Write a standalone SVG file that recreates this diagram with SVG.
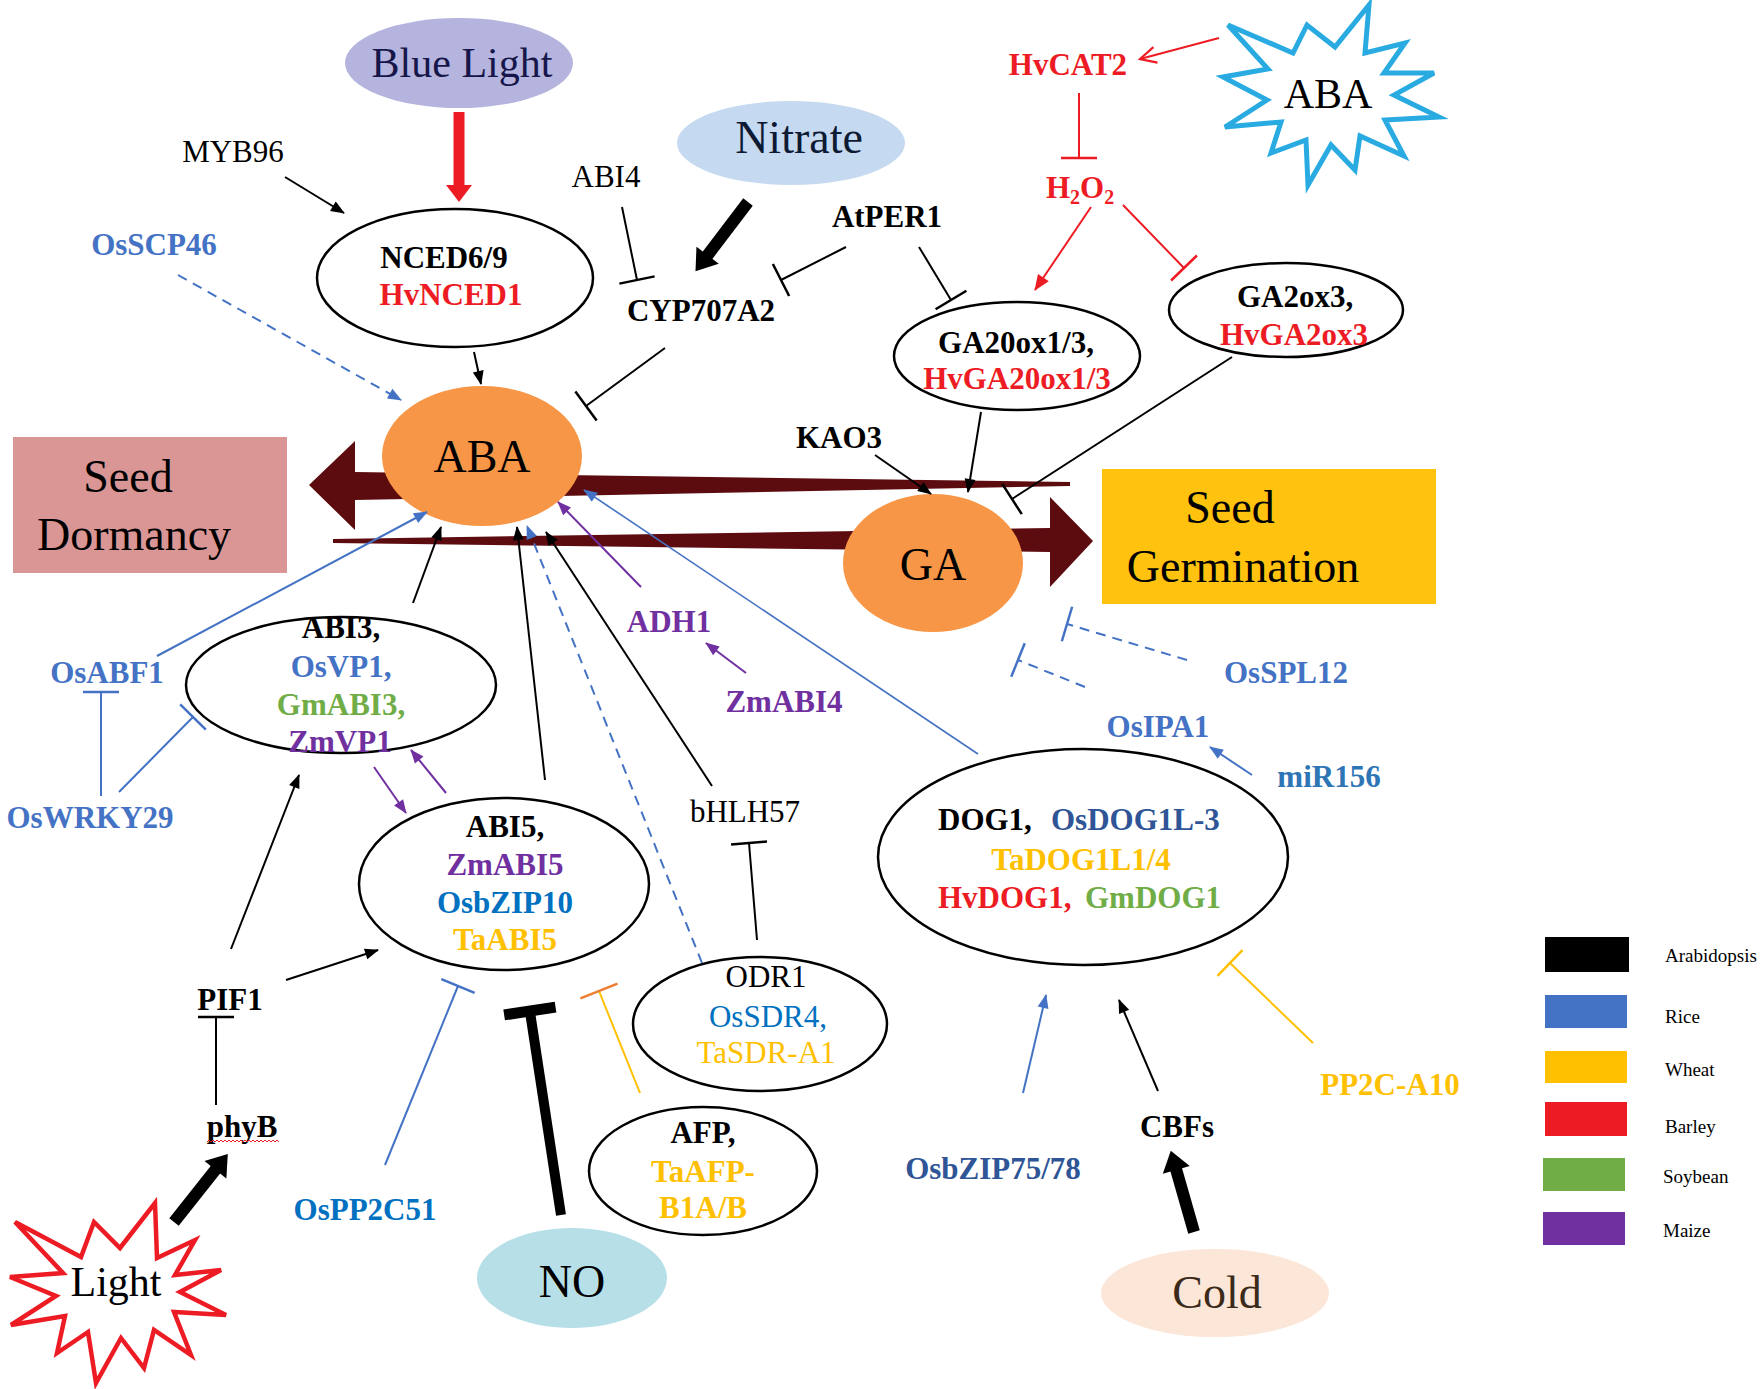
<svg xmlns="http://www.w3.org/2000/svg" width="1760" height="1389" viewBox="0 0 1760 1389">
<style>
.t{font-family:"Liberation Serif","Times New Roman",serif;font-size:31px;text-anchor:middle}
.b{font-weight:bold}
.big{font-size:46px}
.mid{font-size:42px}
.st{text-anchor:start}
.lg{font-size:19px;text-anchor:start}
.ln{fill:none;stroke-width:2}
.k{stroke:#000}.bl{stroke:#4472c4}.pu{stroke:#7030a0}.rd{stroke:#ed1c24}.ye{stroke:#ffc000}
.dash{stroke-dasharray:10 7}
.cK{fill:#000}.cB{fill:#4472c4}.cB2{fill:#0070c0}.cB3{fill:#2f5597}.cB4{fill:#2e75b6}.cR{fill:#ed1c24}.cY{fill:#ffc000}.cG{fill:#70ad47}.cP{fill:#7030a0}
.node{fill:#fff;stroke:#000;stroke-width:2.5}
.flow{fill:#5c0b0f}
</style>
<defs>
<marker id="ahK" markerUnits="userSpaceOnUse" markerWidth="14" markerHeight="11" refX="13" refY="5.5" orient="auto" overflow="visible"><path d="M0,0 L14,5.5 L0,11 z" fill="#000"/></marker>
<marker id="ahB" markerUnits="userSpaceOnUse" markerWidth="14" markerHeight="11" refX="13" refY="5.5" orient="auto" overflow="visible"><path d="M0,0 L14,5.5 L0,11 z" fill="#4472c4"/></marker>
<marker id="ahP" markerUnits="userSpaceOnUse" markerWidth="14" markerHeight="11" refX="13" refY="5.5" orient="auto" overflow="visible"><path d="M0,0 L14,5.5 L0,11 z" fill="#7030a0"/></marker>
<marker id="ahR" markerUnits="userSpaceOnUse" markerWidth="16" markerHeight="13" refX="15" refY="6.5" orient="auto" overflow="visible"><path d="M0,0 L16,6.5 L0,13 z" fill="#ed1c24"/></marker>
<marker id="ahRo" markerUnits="userSpaceOnUse" markerWidth="18" markerHeight="18" refX="17" refY="9" orient="auto" overflow="visible"><path d="M1,1 L17,9 L1,17" fill="none" stroke="#ed1c24" stroke-width="2.2"/></marker>
<marker id="tbK" markerUnits="userSpaceOnUse" markerWidth="4" markerHeight="36" refX="2" refY="18" orient="auto" overflow="visible"><path d="M2,0 V36" stroke="#000" stroke-width="2.5"/></marker>
<marker id="tbB" markerUnits="userSpaceOnUse" markerWidth="4" markerHeight="36" refX="2" refY="18" orient="auto" overflow="visible"><path d="M2,0 V36" stroke="#4472c4" stroke-width="2.5"/></marker>
<marker id="tbR" markerUnits="userSpaceOnUse" markerWidth="4" markerHeight="36" refX="2" refY="18" orient="auto" overflow="visible"><path d="M2,0 V36" stroke="#ed1c24" stroke-width="2.5"/></marker>
<marker id="tbY" markerUnits="userSpaceOnUse" markerWidth="4" markerHeight="36" refX="2" refY="18" orient="auto" overflow="visible"><path d="M2,0 V36" stroke="#ffc000" stroke-width="2.5"/></marker>
<marker id="tbO" markerUnits="userSpaceOnUse" markerWidth="4" markerHeight="40" refX="2" refY="20" orient="auto" overflow="visible"><path d="M2,0 V40" stroke="#ed7d31" stroke-width="2.5"/></marker>
<marker id="tbNO" markerUnits="userSpaceOnUse" markerWidth="12" markerHeight="52" refX="5" refY="26" orient="auto" overflow="visible"><path d="M6,0 V52" stroke="#000" stroke-width="11"/></marker>
<marker id="thkK" markerUnits="userSpaceOnUse" markerWidth="20" markerHeight="28" refX="1" refY="14" orient="auto" overflow="visible"><path d="M0,0 L20,14 L0,28 z" fill="#000"/></marker>
<marker id="thkR" markerUnits="userSpaceOnUse" markerWidth="17" markerHeight="26" refX="1" refY="13" orient="auto" overflow="visible"><path d="M0,0 L17,13 L0,26 z" fill="#ed1c24"/></marker>
</defs>
<rect width="1760" height="1389" fill="#fff"/>

<g id="main-flow">
<polygon class="flow" points="309,485 355,441 355,472 1070,482 1070,486 355,500 355,530"/>
<polygon class="flow" points="333,539 1050,528 1050,497 1093,541 1050,587 1050,552 333,543"/>
</g>

<g id="seed-dormancy"><rect x="13" y="437" width="274" height="136" fill="#d99694"/>
<text class="t big" x="128" y="492">Seed</text><text class="t big" x="134" y="550">Dormancy</text></g>
<g id="seed-germination"><rect x="1102" y="469" width="334" height="135" fill="#fec20f"/>
<text class="t big" x="1230" y="523">Seed</text><text class="t big" x="1243" y="582">Germination</text></g>

<g id="blue-light"><ellipse cx="459" cy="63" rx="114" ry="45" fill="#b4b4de"/>
<text class="t mid" x="462" y="77" fill="#16164a">Blue Light</text></g>
<g id="nitrate"><ellipse cx="791" cy="143" rx="114" ry="42" fill="#c5d9f0"/>
<text class="t big" x="799" y="153" fill="#0d1a33">Nitrate</text></g>
<g id="myb96"><text class="t cK" x="233" y="162">MYB96</text></g>
<g id="osscp46"><text class="t b cB" x="154" y="255">OsSCP46</text></g>
<g id="nced"><ellipse class="node" cx="455" cy="278" rx="138" ry="69"/>
<text class="t b cK" x="444" y="268">NCED6/9</text><text class="t b cR" x="451" y="305">HvNCED1</text></g>
<g id="abi4"><text class="t cK" x="606" y="187">ABI4</text></g>
<g id="cyp707a2"><text class="t b cK" x="701" y="321">CYP707A2</text></g>
<g id="atper1"><text class="t b cK" x="887" y="227">AtPER1</text></g>
<g id="hvcat2"><text class="t b cR" x="1068" y="75">HvCAT2</text></g>
<g id="h2o2"><text class="t b cR" x="1080" y="198">H<tspan font-size="20" dy="6">2</tspan><tspan dy="-6">O</tspan><tspan font-size="20" dy="6">2</tspan></text></g>
<g id="aba-star"><path d="M1228,25 L1293,53 L1307,25 L1335,47 L1369,5 L1365,53 L1405,43 L1384,73 L1434,73 L1394,95 L1439,117 L1385,120 L1404,156 L1360,136 L1355,170 L1331,145 L1308,185 L1306,140 L1271,153 L1281,122 L1225,127 L1267,100 L1223,77 L1268,69 Z" fill="#fff" stroke="#29abe2" stroke-width="5" stroke-linejoin="miter"/>
<text class="t mid" x="1328" y="108" fill="#000">ABA</text></g>
<g id="ga20ox"><ellipse class="node" cx="1017" cy="356" rx="123" ry="54"/>
<text class="t b cK" x="1016" y="353">GA20ox1/3,</text><text class="t b cR" x="1017" y="389">HvGA20ox1/3</text></g>
<g id="ga2ox3"><ellipse class="node" cx="1286" cy="310" rx="117" ry="47"/>
<text class="t b cK" x="1295" y="307">GA2ox3,</text><text class="t b cR" x="1294" y="345">HvGA2ox3</text></g>
<g id="kao3"><text class="t b cK" x="839" y="448">KAO3</text></g>
<g id="aba"><ellipse cx="482" cy="456" rx="100" ry="70" fill="#f79646"/>
<text class="t big" x="482" y="472" fill="#000">ABA</text></g>
<g id="ga"><ellipse cx="933" cy="563" rx="90" ry="69" fill="#f79646"/>
<text class="t big" x="933" y="580" fill="#000">GA</text></g>
<g id="osabf1"><text class="t b cB" x="107" y="683">OsABF1</text></g>
<g id="oswrky29"><text class="t b cB" x="90" y="828">OsWRKY29</text></g>
<g id="abi3"><ellipse class="node" cx="341" cy="685" rx="155" ry="68"/>
<text class="t b cK" x="341" y="638">ABI3,</text><text class="t b cB" x="341" y="677">OsVP1,</text><text class="t b cG" x="341" y="715">GmABI3,</text><text class="t b cP" x="340" y="752">ZmVP1</text></g>
<g id="adh1"><text class="t b cP" x="669" y="632">ADH1</text></g>
<g id="zmabi4"><text class="t b cP" x="784" y="712">ZmABI4</text></g>
<g id="osspl12"><text class="t b cB" x="1286" y="683">OsSPL12</text></g>
<g id="osipa1"><text class="t b cB" x="1158" y="737">OsIPA1</text></g>
<g id="mir156"><text class="t b cB4" x="1329" y="787">miR156</text></g>
<g id="bhlh57"><text class="t cK" x="745" y="822">bHLH57</text></g>
<g id="dog1"><ellipse class="node" cx="1083" cy="857" rx="205" ry="108"/>
<text class="t b st" x="938" y="830"><tspan class="cK">DOG1,</tspan><tspan class="cB3" x="1051">OsDOG1L-3</tspan></text>
<text class="t b cY" x="1081" y="870">TaDOG1L1/4</text>
<text class="t b st" x="938" y="908"><tspan class="cR">HvDOG1,</tspan><tspan class="cG" x="1085">GmDOG1</tspan></text></g>
<g id="abi5"><ellipse class="node" cx="504" cy="884" rx="145" ry="86"/>
<text class="t b cK" x="505" y="837">ABI5,</text><text class="t b cP" x="505" y="875">ZmABI5</text><text class="t b cB2" x="505" y="913">OsbZIP10</text><text class="t b cY" x="505" y="950">TaABI5</text></g>
<g id="odr1"><ellipse class="node" cx="760" cy="1024" rx="127" ry="67"/>
<text class="t cK" x="766" y="987">ODR1</text><text class="t cB2" x="768" y="1027">OsSDR4,</text><text class="t cY" x="766" y="1063">TaSDR-A1</text></g>
<g id="afp"><ellipse class="node" cx="703" cy="1171" rx="114" ry="64"/>
<text class="t b cK" x="703" y="1143">AFP,</text><text class="t b cY" x="703" y="1182">TaAFP-</text><text class="t b cY" x="703" y="1218">B1A/B</text></g>
<g id="pif1"><text class="t b cK" x="230" y="1010">PIF1</text></g>
<g id="phyb"><text class="t b cK" x="242" y="1137">phyB</text>
<path d="M207,1142 l2,-2 l2,2 l2,-2 l2,2 l2,-2 l2,2 l2,-2 l2,2 l2,-2 l2,2 l2,-2 l2,2 l2,-2 l2,2 l2,-2 l2,2 l2,-2 l2,2 l2,-2 l2,2 l2,-2 l2,2 l2,-2 l2,2 l2,-2 l2,2 l2,-2 l2,2 l2,-2 l2,2 l2,-2 l2,2 l2,-2 l2,2 l2,-2 l2,2" fill="none" stroke="#ed1c24" stroke-width="1"/></g>
<g id="ospp2c51"><text class="t b cB2" x="365" y="1220">OsPP2C51</text></g>
<g id="no"><ellipse cx="572" cy="1278" rx="95" ry="50" fill="#b7dfe8"/>
<text class="t big" x="572" y="1297" fill="#000">NO</text></g>
<g id="light"><path d="M15,1222 L81,1257 L94,1222 L120,1248 L155,1203 L157,1258 L195,1240 L175,1275 L221,1270 L180,1292 L226,1315 L174,1312 L191,1355 L154,1330 L144,1368 L121,1338 L96,1383 L88,1332 L57,1353 L65,1316 L11,1325 L56,1296 L10,1277 L63,1273 Z" fill="#fff" stroke="#ed1c24" stroke-width="4.5"/>
<text class="t mid" x="116" y="1296" fill="#000">Light</text></g>
<g id="osbzip7578"><text class="t b cB3" x="993" y="1179">OsbZIP75/78</text></g>
<g id="cbfs"><text class="t b cK" x="1177" y="1137">CBFs</text></g>
<g id="cold"><ellipse cx="1215" cy="1293" rx="114" ry="44" fill="#fce6d8"/>
<text class="t big" x="1217" y="1308" fill="#3b2a1a">Cold</text></g>
<g id="pp2c-a10"><text class="t b cY" x="1390" y="1095">PP2C-A10</text></g>

<g id="connectors">
<g class="ln k" marker-end="url(#ahK)">
<line x1="285" y1="177" x2="344" y2="213"/>
<line x1="474" y1="352" x2="481" y2="384"/>
<line x1="875" y1="455" x2="931" y2="494"/>
<line x1="981" y1="412" x2="968" y2="492"/>
<line x1="413" y1="603" x2="441" y2="527"/>
<line x1="545" y1="780" x2="517" y2="527"/>
<line x1="712" y1="786" x2="546" y2="532"/>
<line x1="231" y1="949" x2="299" y2="775"/>
<line x1="286" y1="980" x2="378" y2="950"/>
<line x1="1158" y1="1091" x2="1119" y2="1000"/>
</g>
<g class="ln bl" marker-end="url(#ahB)">
<line x1="157" y1="656" x2="427" y2="512"/>
<line x1="978" y1="754" x2="584" y2="490" stroke-width="1.6"/>
<line x1="1252" y1="775" x2="1210" y2="747"/>
<line x1="1023" y1="1093" x2="1046" y2="995"/>
<line class="dash" x1="178" y1="275" x2="401" y2="400"/>
<line class="dash" x1="702" y1="963" x2="527" y2="526"/>
</g>
<g class="ln pu" marker-end="url(#ahP)">
<line x1="374" y1="767" x2="406" y2="813"/>
<line x1="446" y1="793" x2="411" y2="750"/>
<line x1="641" y1="587" x2="558" y2="502"/>
<line x1="746" y1="673" x2="706" y2="643"/>
</g>
<line class="ln rd" x1="1091" y1="207" x2="1035" y2="290" marker-end="url(#ahR)"/>
<line class="ln rd" x1="1219" y1="38" x2="1140" y2="59" marker-end="url(#ahRo)"/>
<g class="ln k" marker-end="url(#tbK)">
<line x1="622" y1="207" x2="637" y2="280"/>
<line x1="846" y1="247" x2="781" y2="280"/>
<line x1="919" y1="247" x2="951" y2="300"/>
<line x1="665" y1="348" x2="586" y2="406"/>
<line x1="1232" y1="357" x2="1012" y2="499"/>
<line x1="757" y1="940" x2="749" y2="843"/>
<line x1="216" y1="1105" x2="216" y2="1017"/>
</g>
<g class="ln bl" marker-end="url(#tbB)">
<line x1="101" y1="796" x2="101" y2="692"/>
<line x1="119" y1="792" x2="193" y2="717"/>
<line x1="385" y1="1165" x2="458" y2="986"/>
<line class="dash" x1="1187" y1="660" x2="1067" y2="624"/>
<line class="dash" x1="1085" y1="687" x2="1018" y2="660"/>
</g>
<g class="ln rd" marker-end="url(#tbR)">
<line x1="1079" y1="93" x2="1079" y2="158"/>
<line x1="1123" y1="205" x2="1184" y2="268"/>
</g>
<line class="ln ye" x1="640" y1="1093" x2="599" y2="991" marker-end="url(#tbO)"/>
<line class="ln ye" x1="1313" y1="1043" x2="1230" y2="963" marker-end="url(#tbY)"/>
<line x1="459" y1="112" x2="459" y2="186" stroke="#ed1c24" stroke-width="11" marker-end="url(#thkR)"/>
<line x1="748" y1="202" x2="707" y2="256" stroke="#000" stroke-width="12" marker-end="url(#thkK)"/>
<line x1="174" y1="1222" x2="216" y2="1169" stroke="#000" stroke-width="12" marker-end="url(#thkK)"/>
<line x1="1194" y1="1232" x2="1176" y2="1169" stroke="#000" stroke-width="12" marker-end="url(#thkK)"/>
<line x1="561" y1="1215" x2="530" y2="1012" stroke="#000" stroke-width="10" marker-end="url(#tbNO)"/>
</g>

<g id="legend">
<rect x="1545" y="937" width="84" height="35" fill="#000"/>
<rect x="1545" y="995" width="82" height="33" fill="#4472c4"/>
<rect x="1545" y="1051" width="82" height="32" fill="#ffc000"/>
<rect x="1545" y="1102" width="82" height="34" fill="#ed1c24"/>
<rect x="1543" y="1158" width="82" height="33" fill="#70ad47"/>
<rect x="1543" y="1212" width="82" height="33" fill="#7030a0"/>
<text class="t lg cK" x="1665" y="962">Arabidopsis</text>
<text class="t lg cK" x="1665" y="1023">Rice</text>
<text class="t lg cK" x="1665" y="1076">Wheat</text>
<text class="t lg cK" x="1665" y="1133">Barley</text>
<text class="t lg cK" x="1663" y="1183">Soybean</text>
<text class="t lg cK" x="1663" y="1237">Maize</text>
</g>
</svg>
